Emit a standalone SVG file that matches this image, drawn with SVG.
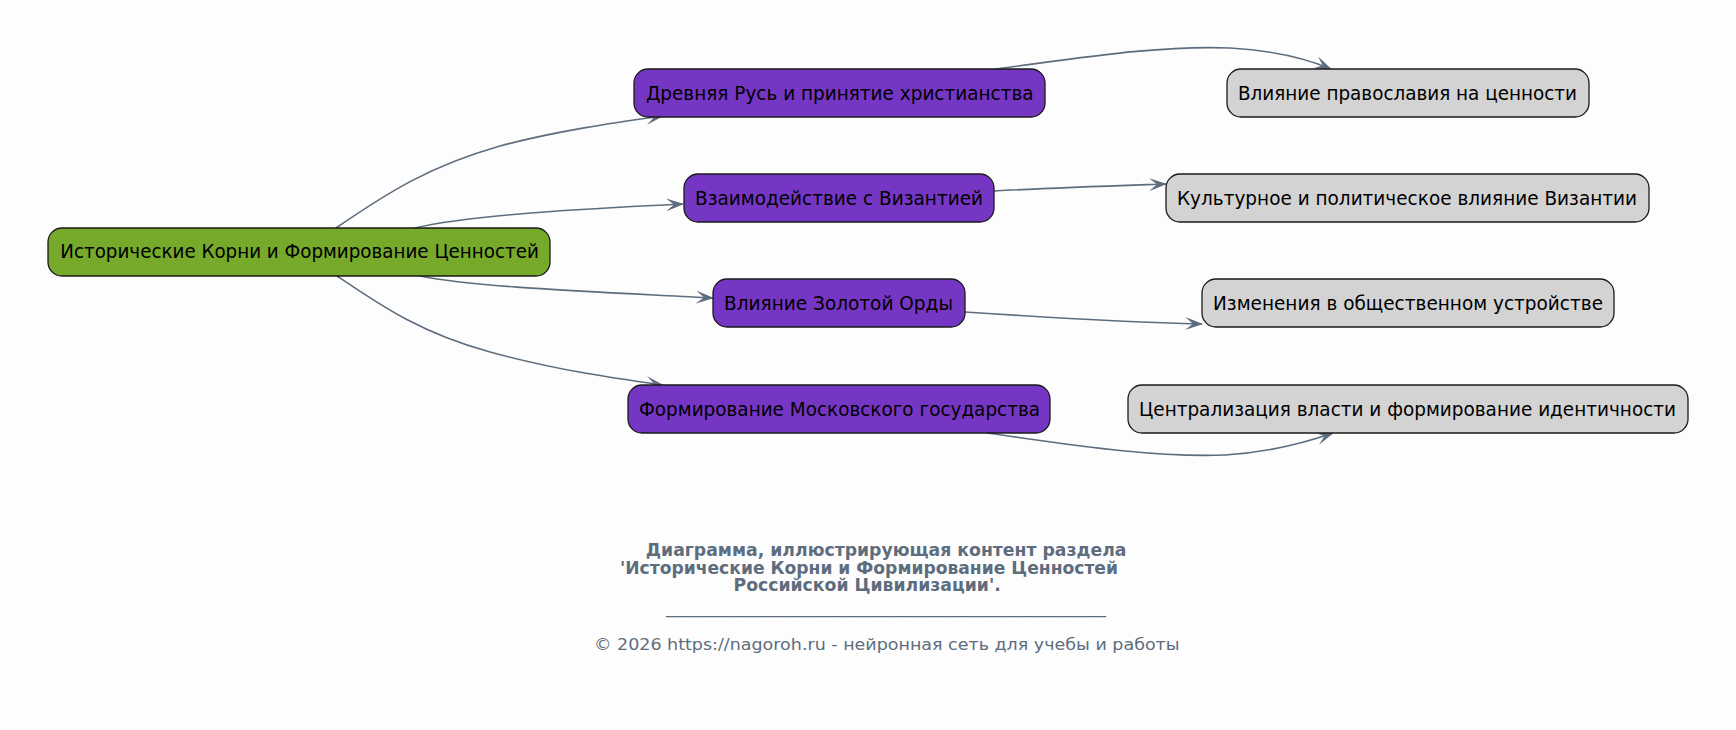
<svg xmlns="http://www.w3.org/2000/svg" width="1736" height="730" viewBox="0 0 1736 730">
<style>
.n rect{stroke:#1a1a1a;stroke-width:1.3}
.root rect{fill:#77A92A}
.mid rect{fill:#7636C4}
.leaf rect{fill:#D3D3D3}
.n text{font-family:"DejaVu Sans",sans-serif;font-size:19px;fill:#000;text-anchor:start}
.e path{fill:none;stroke:#5D6D7E;stroke-width:1.6}
.t{font-family:"DejaVu Sans",sans-serif;fill:#5D6D7E;text-anchor:start}
.tb{font-weight:bold;font-size:16.8px}
.ft{font-size:16.5px}
</style>
<defs>
<marker id="ah" viewBox="0 0 18 13" refX="17" refY="6.5" markerWidth="18" markerHeight="13" markerUnits="userSpaceOnUse" orient="auto">
<path d="M0,0 L18,6.5 L0,13 L8,6.5 z" fill="#5D6D7E"/>
</marker>
</defs>
<rect width="1736" height="730" fill="#FDFDFD"/>
<g id="connectors" class="e">
<path d="M336,228 C390,191 430,166 500,146 C560,130 620,122 663,116" marker-end="url(#ah)"/>
<path d="M415,228 C470,215 580,209 683,204" marker-end="url(#ah)"/>
<path d="M420,276 C475,287 580,291 713,298" marker-end="url(#ah)"/>
<path d="M337,276 C380,305 420,333 490,352 C560,371 620,379 663,385" marker-end="url(#ah)"/>
<path d="M995,69 C1080,58 1160,45 1230,48 C1280,51 1310,60 1331,69" marker-end="url(#ah)"/>
<path d="M994,191 C1050,188 1110,186 1166,184" marker-end="url(#ah)"/>
<path d="M965,312 C1040,317 1120,322 1202,324" marker-end="url(#ah)"/>
<path d="M987,433 C1060,443 1150,458 1225,455 C1275,452 1310,441 1333,433" marker-end="url(#ah)"/>
</g>
<g id="root" class="n root"><rect x="48" y="228" width="502" height="48" rx="14"/><text x="60.3" y="258" textLength="478.5" lengthAdjust="spacingAndGlyphs">Исторические Корни и Формирование Ценностей</text></g>
<g id="n1" class="n mid"><rect x="634" y="69" width="411" height="48" rx="14"/><text x="645.9" y="99.5" textLength="387.7" lengthAdjust="spacingAndGlyphs">Древняя Русь и принятие христианства</text></g>
<g id="n2" class="n mid"><rect x="684" y="174" width="310" height="48" rx="14"/><text x="695" y="204.5" textLength="288" lengthAdjust="spacingAndGlyphs">Взаимодействие с Византией</text></g>
<g id="n3" class="n mid"><rect x="713" y="279" width="252" height="48" rx="14"/><text x="724" y="309.5" textLength="229" lengthAdjust="spacingAndGlyphs">Влияние Золотой Орды</text></g>
<g id="n4" class="n mid"><rect x="628" y="385" width="422" height="48" rx="14"/><text x="639" y="415.5" textLength="401" lengthAdjust="spacingAndGlyphs">Формирование Московского государства</text></g>
<g id="l1" class="n leaf"><rect x="1227" y="69" width="362" height="48" rx="14"/><text x="1238" y="99.5" textLength="339" lengthAdjust="spacingAndGlyphs">Влияние православия на ценности</text></g>
<g id="l2" class="n leaf"><rect x="1166" y="174" width="483" height="48" rx="14"/><text x="1177" y="204.5" textLength="460" lengthAdjust="spacingAndGlyphs">Культурное и политическое влияние Византии</text></g>
<g id="l3" class="n leaf"><rect x="1202" y="279" width="412" height="48" rx="14"/><text x="1213" y="309.5" textLength="390" lengthAdjust="spacingAndGlyphs">Изменения в общественном устройстве</text></g>
<g id="l4" class="n leaf"><rect x="1128" y="385" width="560" height="48" rx="14"/><text x="1139" y="415.5" textLength="537" lengthAdjust="spacingAndGlyphs">Централизация власти и формирование идентичности</text></g>
<g id="title">
<text class="t tb" x="645.7" y="556" textLength="480.8" lengthAdjust="spacingAndGlyphs">Диаграмма, иллюстрирующая контент раздела</text>
<text class="t tb" x="620" y="574" textLength="498" lengthAdjust="spacingAndGlyphs">'Исторические Корни и Формирование Ценностей</text>
<text class="t tb" x="733.5" y="591" textLength="267.3" lengthAdjust="spacingAndGlyphs">Российской Цивилизации'.</text>
<text class="t ft" x="666" y="613" textLength="440" lengthAdjust="spacingAndGlyphs">________________________________________________</text>
<text class="t ft" x="594" y="649.5" textLength="585.6" lengthAdjust="spacingAndGlyphs">© 2026 https://nagoroh.ru - нейронная сеть для учебы и работы</text>
</g>
</svg>
